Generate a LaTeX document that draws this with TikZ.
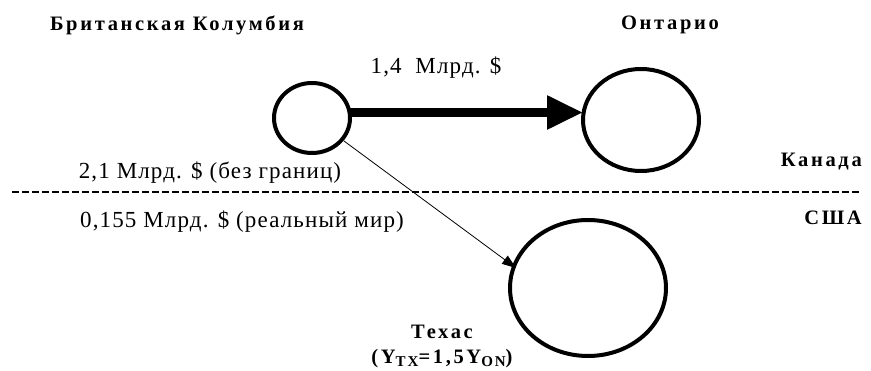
\documentclass[tikz,border=0pt]{standalone}
\usepackage{fontspec}
\setmainfont{Liberation Serif}
\usetikzlibrary{arrows.meta}
\begin{document}
\begin{tikzpicture}[x=1pt,y=-1pt,
  region/.style={line width=4pt},
  anchorpt/.style={circle, inner sep=0pt},
  title/.style={font=\fontsize{20.5}{22}\selectfont\bfseries\addfontfeatures{LetterSpace=13}, inner sep=0pt},
  amount/.style={font=\fontsize{23}{26}\selectfont\addfontfeatures{LetterSpace=5}, inner sep=0pt},
  flow/.style={line width=8.5pt, -{Triangle[length=36pt,width=32pt]}},
  trade/.style={line width=0.8pt, -{Triangle[length=14pt,width=10pt]}}
]
\useasboundingbox (0,0) rectangle (871,371);
% provinces and state
\draw[region] (312,118) ellipse [x radius=38, y radius=35];
\node[anchorpt, minimum size=70pt] (bc) at (312,118) {};
\draw[region] (641,120) ellipse [x radius=58, y radius=51];
\node[anchorpt, minimum size=102pt] (on) at (641,120) {};
\draw[region] (588,288) ellipse [x radius=78, y radius=68];
\node[anchorpt, minimum size=136pt] (tx) at (588,288) {};

% labels
\node[title] (lbc) at (177,25) {Британская Колумбия};
\node[title] (lon) at (670,25) {Онтарио};
\node[title, anchor=east] (lca) at (862,162) {Канада};
\node[title, anchor=east] (lus) at (862,218) {США};
\node[title, align=center] (ltx) at (442,346.5) {Техас\\[3pt](Y\raisebox{-0.3ex}{\fontsize{15}{16}\selectfont TX}=1,5Y\raisebox{-0.3ex}{\fontsize{15}{16}\selectfont ON})};

\node[amount] (a1) at (436,68) {1,4 \ Млрд. \$};
\node[amount] (a2) at (210,173) {2,1 Млрд. \$ (без границ)};
\node[amount] (a3) at (242,222) {0,155 Млрд. \$ (реальный мир)};

% border
\coordinate (b1) at (12,192);
\coordinate (b2) at (860,192);
\draw[line width=2.5pt, dash pattern=on 7pt off 3pt] (b1) -- (b2);

% flows
\coordinate (f1) at (350,112.5);
\coordinate (f2) at (583,112.5);
\draw[flow] (f1) -- (f2);
\coordinate (t1) at (344,141);
\coordinate (t2) at (516,268);
\draw[trade] (t1) -- (t2);
\end{tikzpicture}
\end{document}
